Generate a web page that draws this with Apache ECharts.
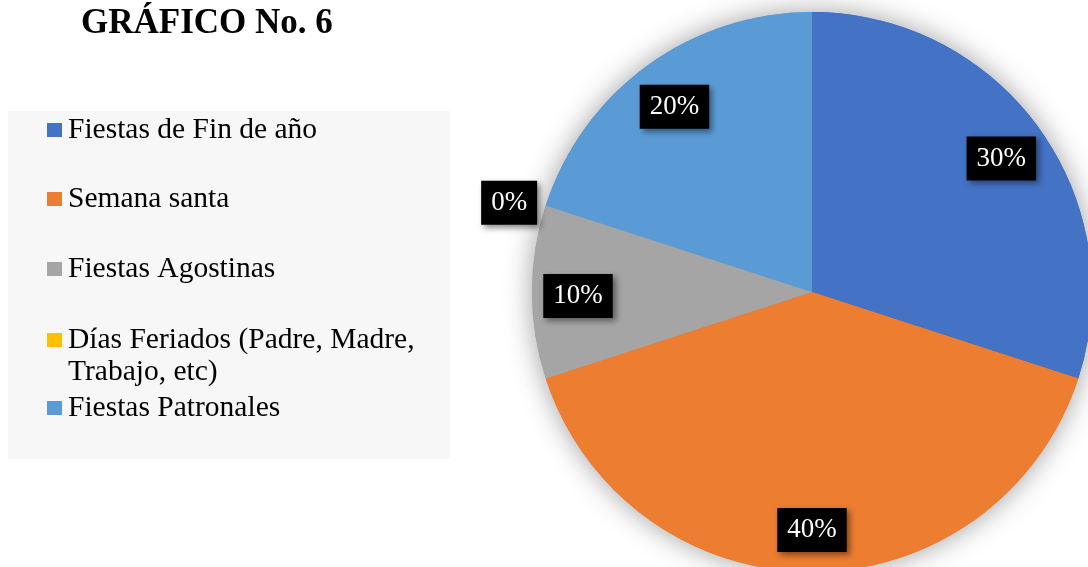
<!DOCTYPE html>
<html>
<head>
<meta charset="utf-8">
<script src="https://cdn.jsdelivr.net/npm/echarts@6/dist/echarts.min.js"></script>
<style>
  html, body { margin: 0; padding: 0; background: #ffffff; }
  #chart { width: 1088px; height: 567px; }
</style>
</head>
<body>
<div id="chart"></div>
<script>
// Survey answers (percent) per holiday period
const categories = [
  'Fiestas de Fin de año',
  'Semana santa',
  'Fiestas Agostinas',
  'Días Feriados (Padre, Madre, Trabajo, etc)',
  'Fiestas Patronales'
];
const values = [30, 40, 10, 0, 20];
const colors = ['#4472C4', '#ED7D31', '#A5A5A5', '#FFC000', '#5B9BD5'];
const legendText = [
  'Fiestas de Fin de año',
  'Semana santa',
  'Fiestas Agostinas',
  'Días Feriados (Padre, Madre,\nTrabajo, etc)',
  'Fiestas Patronales'
];

const SERIF = '"Liberation Serif", "Times New Roman", serif';
const CENTER = [812, 292];
const LABEL_CENTER = [812, 296];
const R = 280;
const LINE = 32;

const pieData = () => categories.map((name, i) => ({
  name: name,
  value: values[i],
  itemStyle: { color: colors[i] }
}));

const labelBox = {
  fontFamily: SERIF,
  fontSize: 27,
  color: '#ffffff',
  backgroundColor: '#000000',
  padding: [9, 10, 8, 10],
  shadowColor: 'rgba(0,0,0,0.45)',
  shadowBlur: 6,
  shadowOffsetX: 3,
  shadowOffsetY: 3,
  formatter: (p) => p.value + '%'
};

// one legend box per entry so each row sits on its own line
const legendRows = [130, 199, 269, 340, 408];
const legends = categories.map((name, i) => {
  const twoLines = legendText[i].indexOf('\n') >= 0;
  return {
    orient: 'vertical',
    left: 47,
    top: twoLines ? legendRows[i] - LINE * 1.5 : legendRows[i] - LINE / 2,
    padding: 0,
    icon: 'rect',
    itemWidth: 15,
    itemHeight: 14,
    selectedMode: false,
    data: [name],
    // a blank leading line keeps the marker level with the first text line
    formatter: () => (twoLines ? '\n' : '') + legendText[i],
    textStyle: {
      fontFamily: SERIF,
      fontSize: 29.5,
      color: '#000000',
      lineHeight: LINE,
      padding: [0, 0, 0, 1]
    }
  };
});

const chart = echarts.init(document.getElementById('chart'), null, { renderer: 'canvas' });
chart.setOption({
  backgroundColor: '#ffffff',
  animation: false,
  title: {
    text: 'GRÁFICO No. 6',
    left: 81,
    top: 6,
    padding: 0,
    textStyle: {
      fontFamily: SERIF,
      fontSize: 35,
      fontWeight: 'bold',
      color: '#000000'
    }
  },
  graphic: [{
    type: 'rect',
    left: 8,
    top: 111,
    z: -10,
    shape: { width: 442, height: 348 },
    style: { fill: '#f7f7f7' },
    silent: true
  }],
  legend: legends,
  series: [
    {
      // the pie itself; only the empty slice labels itself, outside the rim
      type: 'pie',
      name: 'pie',
      center: CENTER,
      radius: [0, R],
      startAngle: 90,
      clockwise: true,
      z: 3,
      silent: true,
      avoidLabelOverlap: false,
      label: Object.assign({ show: false, position: 'outside', distanceToLabelLine: 0 }, labelBox),
      labelLine: { show: false, length: 9, length2: 0 },
      emphasis: { disabled: true },
      data: categories.map((name, i) => ({
        name: name,
        value: values[i],
        itemStyle: { color: colors[i] },
        label: { show: values[i] === 0 }
      }))
    },
    {
      // soft drop shadow under the pie
      type: 'pie',
      name: 'shadow',
      center: CENTER,
      radius: [0, R],
      startAngle: 90,
      clockwise: true,
      z: 1,
      silent: true,
      label: { show: false },
      labelLine: { show: false },
      emphasis: { disabled: true },
      itemStyle: {
        shadowBlur: 28,
        shadowColor: 'rgba(0,0,0,0.38)'
      },
      data: pieData()
    },
    {
      // carries the percentage labels near the rim
      type: 'pie',
      name: 'labels',
      center: LABEL_CENTER,
      radius: [182, R],
      startAngle: 90,
      clockwise: true,
      z: 5,
      silent: true,
      avoidLabelOverlap: false,
      emphasis: { disabled: true },
      itemStyle: { color: 'rgba(0,0,0,0)' },
      label: Object.assign({ show: true, position: 'inside' }, labelBox),
      labelLine: { show: false },
      data: categories.map((name, i) => ({
        name: name,
        value: values[i],
        itemStyle: { color: 'rgba(0,0,0,0)' },
        label: { show: values[i] !== 0 }
      }))
    }
  ]
});
</script>
</body>
</html>
